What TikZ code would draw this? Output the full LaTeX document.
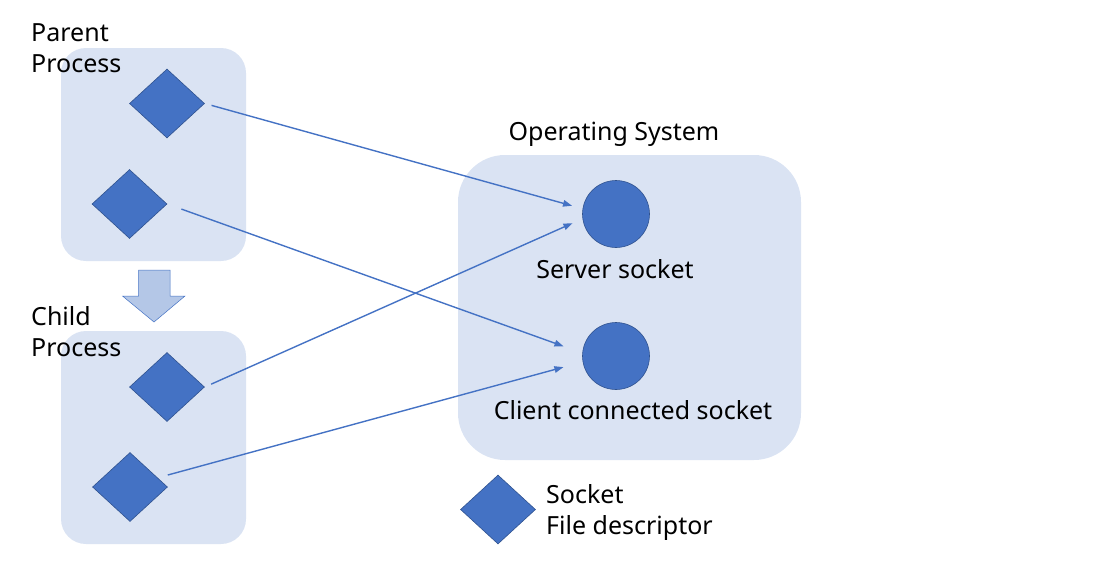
\documentclass[tikz,border=0pt]{standalone}
\usepackage{fontspec}
\setmainfont{Noto Sans}
\usetikzlibrary{shapes.geometric,arrows.meta,calc}
\definecolor{boxfill}{HTML}{DAE3F3}
\definecolor{fdblue}{HTML}{4472C4}
\definecolor{fdedge}{HTML}{2F528F}
\definecolor{forkfill}{HTML}{B4C7E7}
\begin{document}
\begin{tikzpicture}[x=1pt,y=-1pt,
  fd/.style={diamond,fill=fdblue,draw=fdedge,line width=0.6pt,minimum width=75pt,minimum height=69pt,inner sep=0pt},
  sock/.style={circle,fill=fdblue,draw=fdedge,line width=0.6pt,minimum size=67pt,inner sep=0pt},
  link/.style={draw=fdblue,line width=1.4pt,-{Triangle[length=9pt,width=6.5pt]}},
  lbl/.style={font=\fontsize{25}{31}\selectfont,inner sep=0pt}]
\useasboundingbox (0,0) rectangle (1119,574);
% process boxes and the OS box
\fill[boxfill,rounded corners=25pt] (61,48) rectangle (246,261);
\fill[boxfill,rounded corners=25pt] (61,331) rectangle (246,544);
\fill[boxfill,rounded corners=47pt] (458,155) rectangle (801,460);
% fork arrow
\filldraw[fill=forkfill,draw=fdblue,line width=0.5pt] (138.5,270) -- (170,270) -- (170,296) -- (185,296)
  -- (154,322) -- (122.5,296) -- (138.5,296) -- cycle;
% titles
\node[lbl,align=left,anchor=north west] (partitle) at (31,23) {Parent\\Process};
\node[lbl,align=left,anchor=north west] (chitle) at (31,306.5) {Child\\Process};
\node[lbl,anchor=base] (ostitle) at (614,140.5) {Operating System};
% file descriptors
\foreach \nm/\px/\py in {p1/167/103.5,p2/129.5/204,c1/167/387,c2/130/487,key/498/509.5}
  \node[fd] (\nm) at (\px,\py) {};
% sockets
\node[sock] (srv) at (616,214) {};
\node[sock] (cli) at (616,356) {};
\node[lbl,anchor=base] (srvtxt) at (615,278.3) {Server socket};
\node[lbl,anchor=base] (clitxt) at (633,419.3) {Client connected socket};
\node[lbl,align=left,anchor=north west] (keytxt) at (546,484) {Socket\\File descriptor};
% links
\draw[link,shorten <=7pt,shorten >=11pt] (p1.east) -- (srv.171);
\draw[link,shorten <=15pt,shorten >=20pt] (p2.east) -- (cli.175);
\draw[link,shorten <=7pt,shorten >=11pt] (c1.east) -- (srv.188);
\draw[link,shorten >=20pt] ($(c2.east)+(0,-12)$) -- (cli.190);
\end{tikzpicture}
\end{document}
